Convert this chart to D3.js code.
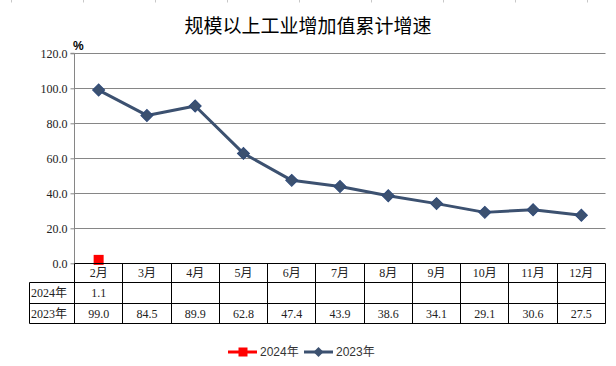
<!DOCTYPE html>
<html><head><meta charset="utf-8">
<script src="https://cdn.jsdelivr.net/npm/d3@7"></script>
<style>
html,body{margin:0;padding:0;background:#fff;}
svg{display:block;}
</style></head>
<body>
<script>
const months = ["2月","3月","4月","5月","6月","7月","8月","9月","10月","11月","12月"];
const series2024 = [1.1, null, null, null, null, null, null, null, null, null, null];
const series2023 = [99.0, 84.5, 89.9, 62.8, 47.4, 43.9, 38.6, 34.1, 29.1, 30.6, 27.5];
const yTicks = [0, 20, 40, 60, 80, 100, 120];
const seriesNames = ["2024年", "2023年"];
const title = "规模以上工业增加值累计增速";

const W = 616, H = 366;
const serif = "'Liberation Serif','Noto Sans CJK SC',serif";
const sans = "'Noto Sans CJK SC','Liberation Sans',sans-serif";
const blue = "#3C5170", red = "#FF0000";

const svg = d3.select("body").append("svg").attr("width", W).attr("height", H);

// faint ruler ticks at top
svg.append("g").selectAll("line").data(d3.range(9)).join("line")
  .attr("x1", i => 11.5 + 72 * i).attr("x2", i => 11.5 + 72 * i)
  .attr("y1", 0).attr("y2", 2.5).attr("stroke", "#c8c8c8").attr("stroke-width", 1);

const x = d3.scaleBand().domain(months).range([74.5, 605.5]).padding(0);
const y = d3.scaleLinear().domain([0, 120]).range([263.3, 53.3]);

// title
svg.append("text").attr("x", 308).attr("y", 33).attr("text-anchor", "middle")
  .attr("font-family", sans).attr("font-size", 19).attr("fill", "#000").text(title);

// gridlines
svg.append("g").selectAll("line").data(yTicks.filter(d => d > 0)).join("line")
  .attr("x1", 74.5).attr("x2", 605.5)
  .attr("y1", d => Math.round(y(d)) + 0.5).attr("y2", d => Math.round(y(d)) + 0.5)
  .attr("stroke", "#868686").attr("stroke-width", 1);

// y axis
const yAxis = d3.axisLeft(y).tickValues(yTicks).tickFormat(d3.format(".1f")).tickSize(4).tickPadding(3);
const ga = svg.append("g").attr("transform", "translate(74.5,0)").call(yAxis);
ga.select(".domain").attr("stroke", "#868686").attr("d", `M-4,${y(120)}H0V${y(0)}`);
ga.selectAll(".tick line").attr("stroke", "#868686");
ga.selectAll(".tick text").attr("font-family", serif).attr("font-size", 12).attr("fill", "#222");

// % label
svg.append("text").attr("x", 73).attr("y", 50).attr("font-family", "'Liberation Sans',sans-serif")
  .attr("font-weight", "bold").attr("font-size", 12).attr("fill", "#000").text("%");

// 2023 line
const pts23 = months.map((m, i) => ({m, v: series2023[i]})).filter(d => d.v != null);
const cx = m => x(m) + x.bandwidth() / 2;
svg.append("path").datum(pts23)
  .attr("d", d3.line().x(d => cx(d.m)).y(d => y(d.v)))
  .attr("fill", "none").attr("stroke", blue).attr("stroke-width", 3).attr("stroke-linejoin", "round");
const diamond = d3.symbol(d3.symbolSquare, 72);
svg.append("g").selectAll("path").data(pts23).join("path")
  .attr("d", diamond)
  .attr("transform", d => `translate(${cx(d.m)},${y(d.v)}) rotate(45)`)
  .attr("fill", blue).attr("stroke", "#2f4a78").attr("stroke-width", 1);

// 2024 markers
const pts24 = months.map((m, i) => ({m, v: series2024[i]})).filter(d => d.v != null);
svg.append("g").selectAll("rect").data(pts24).join("rect")
  .attr("x", d => cx(d.m) - 5).attr("y", d => y(d.v) - 6.5).attr("width", 10).attr("height", 10)
  .attr("fill", red);

// data table
const rows = [263.5, 282.5, 303.5, 323.5];
const tg = svg.append("g").attr("stroke", "#000").attr("stroke-width", 1);
// horizontal lines
tg.append("line").attr("x1", 74.5).attr("x2", 605.5).attr("y1", rows[0]).attr("y2", rows[0]);
[1, 2, 3].forEach(r => tg.append("line").attr("x1", 29.5).attr("x2", 605.5).attr("y1", rows[r]).attr("y2", rows[r]));
// vertical lines
const xs = months.map(m => x(m)).concat([605.5]);
tg.selectAll(".v").data(xs).join("line").attr("class", "v")
  .attr("x1", d => Math.round(d - 0.5) + 0.5).attr("x2", d => Math.round(d - 0.5) + 0.5)
  .attr("y1", rows[0]).attr("y2", rows[3]);
tg.append("line").attr("x1", 29.5).attr("x2", 29.5).attr("y1", rows[1]).attr("y2", rows[3]);

const txt = svg.append("g").attr("font-family", serif).attr("font-size", 12).attr("fill", "#222");
months.forEach((m, i) => {
  txt.append("text").attr("x", cx(m)).attr("y", 277).attr("text-anchor", "middle").text(m);
  if (series2024[i] != null)
    txt.append("text").attr("x", cx(m)).attr("y", 297).attr("text-anchor", "middle").text(series2024[i].toFixed(1));
  if (series2023[i] != null)
    txt.append("text").attr("x", cx(m)).attr("y", 318).attr("text-anchor", "middle").text(series2023[i].toFixed(1));
});
txt.append("text").attr("x", 31).attr("y", 297).text(seriesNames[0]);
txt.append("text").attr("x", 31).attr("y", 318).text(seriesNames[1]);

// legend
const lg = svg.append("g");
lg.append("line").attr("x1", 228).attr("x2", 257).attr("y1", 352).attr("y2", 352).attr("stroke", red).attr("stroke-width", 3);
lg.append("rect").attr("x", 238.5).attr("y", 347.5).attr("width", 9).attr("height", 9).attr("fill", red);
lg.append("text").attr("x", 260).attr("y", 356).attr("font-family", "'Liberation Sans','Noto Sans CJK SC',sans-serif")
  .attr("font-size", 12).attr("fill", "#333").text(seriesNames[0]);
lg.append("line").attr("x1", 304).attr("x2", 333).attr("y1", 352).attr("y2", 352).attr("stroke", blue).attr("stroke-width", 3);
lg.append("path").attr("d", d3.symbol(d3.symbolSquare, 50)).attr("transform", "translate(318.5,352) rotate(45)").attr("fill", blue);
lg.append("text").attr("x", 336).attr("y", 356).attr("font-family", "'Liberation Sans','Noto Sans CJK SC',sans-serif")
  .attr("font-size", 12).attr("fill", "#333").text(seriesNames[1]);
</script>
</body></html>
